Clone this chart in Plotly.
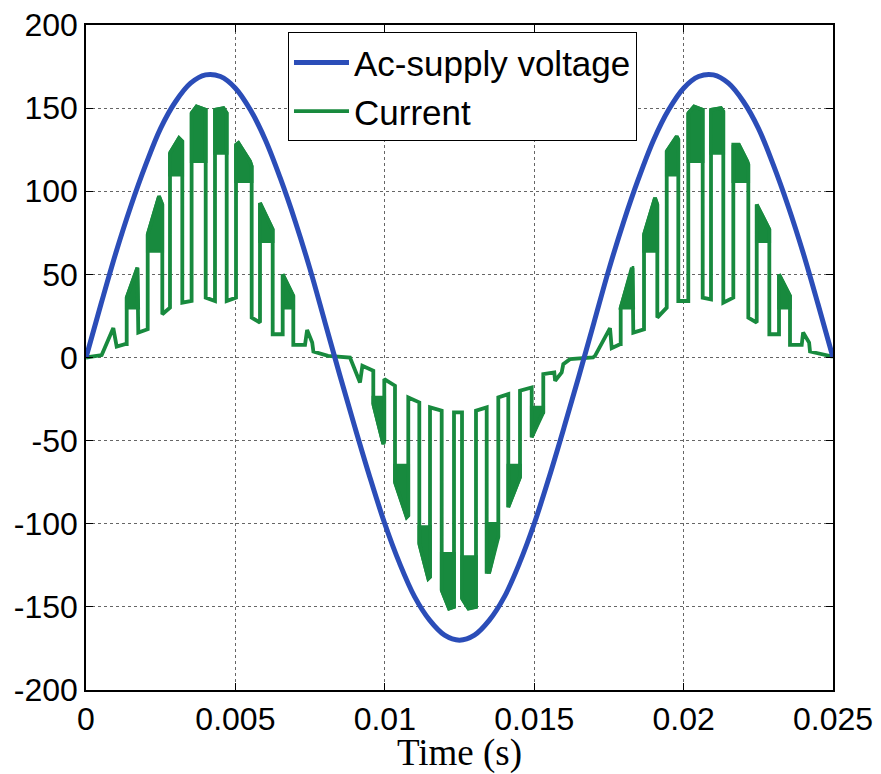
import plotly.graph_objects as go

# ---------------- data ----------------
voltage_t = [i * 0.0005 for i in range(51)]
voltage_v = [0, 32, 63, 91, 116, 138, 154, 165, 170, 169, 162, 149, 131, 108, 82, 53, 21,
             -11, -42, -72, -100, -124, -144, -158, -167, -170, -167, -158, -144, -124, -100,
             -72, -42, -11, 21, 53, 82, 108, 131, 149, 162, 169, 170, 165, 154, 138, 116, 91,
             63, 32, 0]

current_t = [
    0.0, 0.000525, 0.000914, 0.001027, 0.001305, 0.001362, 0.001362, 0.001697, 0.001720, 0.001750,
    0.002031, 0.002065, 0.002065, 0.002443, 0.002554, 0.002554, 0.002811, 0.002811, 0.003112, 0.003223,
    0.003223, 0.003534, 0.003534, 0.003700, 0.004006, 0.004006, 0.004317, 0.004317, 0.004600, 0.004709,
    0.004709, 0.005020, 0.005020, 0.005100, 0.005490, 0.005545, 0.005545, 0.005823, 0.005823, 0.006200,
    0.006248, 0.006248, 0.006583, 0.006583, 0.006900, 0.006938, 0.006938, 0.007330, 0.007400, 0.007570,
    0.007610, 0.008100, 0.008835,
    0.009170, 0.009250, 0.009572, 0.009615, 0.009615, 0.009950, 0.009983, 0.009983, 0.010341, 0.010341,
    0.010733, 0.010786, 0.010786, 0.011155, 0.011155, 0.011456, 0.011513, 0.011513, 0.011904, 0.011904,
    0.012150, 0.012316, 0.012316, 0.012584, 0.012584, 0.012800, 0.013052, 0.013052, 0.013410, 0.013410,
    0.013500, 0.013760, 0.013799, 0.013799, 0.014133, 0.014133, 0.014500, 0.014525, 0.014525, 0.014916,
    0.014916, 0.015270, 0.015304, 0.015304, 0.015672, 0.015700, 0.015920, 0.015974, 0.016198, 0.016968,
    0.017035, 0.017537, 0.017594, 0.017872, 0.017895, 0.017895, 0.018263, 0.018290, 0.018317, 0.018675,
    0.018675, 0.019043, 0.019120, 0.019120, 0.019435, 0.019435, 0.019770, 0.019823, 0.019823, 0.020157,
    0.020157, 0.020350, 0.020639, 0.020639, 0.020917, 0.020917, 0.021250, 0.021329, 0.021329, 0.021664,
    0.021664, 0.021850, 0.022130, 0.022166, 0.022166, 0.022447, 0.022447, 0.022830, 0.022869, 0.022869,
    0.023193, 0.023193, 0.023530, 0.023561, 0.023561, 0.023953, 0.024000, 0.024200, 0.024231, 0.024900,
    0.025000,
]
current_i = [
    0.0, 1.5, 17.7, 6.6, 8.0, 8.0, 36.0, 54.0, 54.0, 15.0,
    17.0, 17.0, 74.0, 97.0, 92.0, 26.0, 30.0, 123.0, 132.0, 130.0,
    33.0, 34.0, 147.0, 151.0, 149.0, 36.0, 34.0, 149.0, 150.0, 147.0,
    34.0, 36.0, 128.0, 129.0, 118.0, 115.0, 24.0, 21.0, 93.0, 78.0,
    77.0, 14.0, 14.0, 50.0, 38.0, 37.0, 7.6, 7.6, 16.6, 9.0,
    3.6, 1.0, 0.0,
    -15.0, -5.0, -8.0, -8.0, -28.0, -52.0, -50.0, -13.0, -17.0, -75.0,
    -96.0, -95.0, -24.0, -27.0, -112.0, -133.0, -132.0, -30.0, -32.0, -140.0,
    -151.0, -150.0, -33.0, -33.0, -145.0, -151.0, -150.0, -32.0, -30.0, -129.0,
    -129.0, -109.0, -108.0, -24.0, -22.0, -90.0, -72.0, -72.0, -20.0, -18.0,
    -48.0, -33.0, -33.0, -10.0, -9.0, -14.0, -9.0, -4.0, -1.0, 0.0,
    1.0, 17.7, 5.6, 8.0, 8.0, 30.0, 54.0, 54.0, 15.0, 17.0,
    74.0, 96.0, 92.0, 24.0, 30.0, 124.0, 133.0, 131.0, 34.0, 34.0,
    147.0, 151.0, 149.0, 36.0, 35.0, 149.0, 150.0, 148.0, 33.0, 36.0,
    128.0, 128.0, 118.0, 116.0, 24.0, 21.0, 92.0, 78.0, 77.0, 14.0,
    14.0, 50.0, 38.0, 37.0, 7.6, 7.6, 15.0, 9.0, 3.6, 1.0,
    0.5,
]

# thick ripple bands on the pulse tops: start time, end time, inner level
band_start = [0.001362, 0.002065, 0.002811, 0.003534, 0.004317, 0.005020, 0.005823, 0.006583,
              0.009615, 0.010341, 0.011155, 0.011904, 0.012584, 0.013410, 0.014133, 0.014916,
              0.017895, 0.018675, 0.019435, 0.020157, 0.020917, 0.021664, 0.022447, 0.023193]
band_end = [0.001750, 0.002554, 0.003223, 0.004006, 0.004709, 0.005545, 0.006248, 0.006938,
            0.009983, 0.010786, 0.011513, 0.012316, 0.013052, 0.013799, 0.014525, 0.015304,
            0.018317, 0.019120, 0.019823, 0.020639, 0.021329, 0.022166, 0.022869, 0.023561]
band_inner = [30, 64, 110, 118, 123, 106, 70, 30,
              -24, -65, -102, -118, -120, -100, -65, -30,
              30, 64, 110, 118, 123, 106, 70, 30]

x_tickvals = [0, 0.005, 0.01, 0.015, 0.02, 0.025]
x_ticktext = ["0", "0.005", "0.01", "0.015", "0.02", "0.025"]
y_tickvals = [-200, -150, -100, -50, 0, 50, 100, 150, 200]
y_ticktext = ["-200", "-150", "-100", "-50", "0", "50", "100", "150", "200"]

# ---------------- build band polygons from the current data ----------------
bx, by = [], []
for t0, t1, lv in zip(band_start, band_end, band_inner):
    pts = [(t, v) for t, v in zip(current_t, current_i)
           if t0 <= t <= t1 and abs(v) > abs(lv)]
    if not pts:
        continue
    for t, v in pts:
        bx.append(t); by.append(v)
    bx += [t1, t0, pts[0][0], None]
    by += [lv, lv, pts[0][1], None]

GREEN = "#188a3e"
BLUE = "#2b4db8"

fig = go.Figure()
fig.add_trace(go.Scatter(x=bx, y=by, mode="lines", fill="toself", fillcolor=GREEN,
                         line=dict(color=GREEN, width=3.5), showlegend=False,
                         hoverinfo="skip"))
fig.add_trace(go.Scatter(x=current_t, y=current_i, mode="lines", name="Current",
                         line=dict(color=GREEN, width=3.8), legendrank=2))
fig.add_trace(go.Scatter(x=voltage_t, y=voltage_v, mode="lines", name="Ac-supply voltage",
                         line=dict(color=BLUE, width=5, shape="spline"), legendrank=1))

axis_common = dict(showline=True, linecolor="black", linewidth=1.5, mirror="ticks",
                   ticks="inside", ticklen=7, tickcolor="black", tickwidth=1.2,
                   showgrid=True, gridcolor="#666666", griddash="dot", gridwidth=1,
                   zeroline=False, automargin=False,
                   tickfont=dict(family="Liberation Sans, Arial", size=32, color="black"))

fig.update_layout(
    width=881, height=774,
    margin=dict(l=86, r=48, t=25, b=84),
    paper_bgcolor="white", plot_bgcolor="white",
    xaxis=dict(range=[0, 0.025], tickvals=x_tickvals, ticktext=x_ticktext,
               title=dict(text="Time (s)", standoff=0,
                          font=dict(family="Liberation Serif, Times New Roman", size=37,
                                    color="black")),
               **axis_common),
    yaxis=dict(range=[-200, 200], tickvals=y_tickvals, ticktext=y_ticktext, **axis_common),
    legend=dict(x=0.2704, y=0.989, xanchor="left", yanchor="top",
                bgcolor="white", bordercolor="black", borderwidth=1,
                font=dict(family="Liberation Sans, Arial", size=35, color="black"),
                itemwidth=55, tracegroupgap=0),
)

fig.write_html("out.html")
